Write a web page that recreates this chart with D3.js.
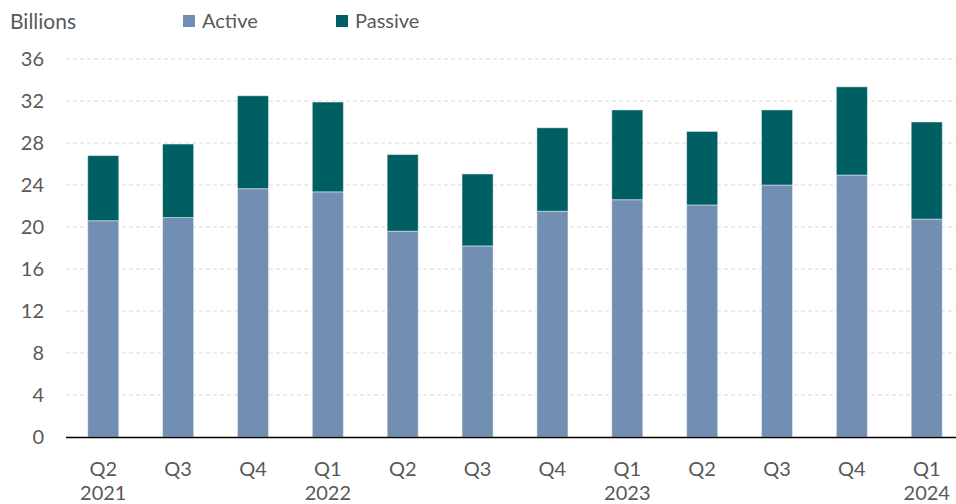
<!DOCTYPE html>
<html><head><meta charset="utf-8">
<script src="https://cdn.jsdelivr.net/npm/d3@7"></script>
<style>body{margin:0;background:#fff}svg{display:block}text{font-family:Lato,"Open Sans",sans-serif;fill:#595959}</style>
</head><body>
<svg id="c" width="956" height="504"></svg>
<script>
const quarters = ["Q2","Q3","Q4","Q1","Q2","Q3","Q4","Q1","Q2","Q3","Q4","Q1"];
const years = ["2021","","","2022","","","","2023","","","","2024"];
const active = [20.6,20.9,23.65,23.35,19.6,18.2,21.5,22.6,22.1,24.0,24.95,20.75];
const passive = [6.2,7.0,8.85,8.55,7.3,6.85,7.95,8.55,7.0,7.15,8.4,9.25];
const yTicks = [0,4,8,12,16,20,24,28,32,36];
const seriesNames = ["Active","Passive"];
const colors = ["#728eb2","#005f63"];

(function(){
const svg = d3.select("#c");
const pL = 66, pR = 964, pT = 59, pB = 437;
const fs = 20;
const idx = d3.range(quarters.length);
const x = d3.scaleBand().domain(idx).range([pL, pR]).paddingInner(0.585).paddingOuter(0.29);
const y = d3.scaleLinear().domain([0,36]).range([pB, pT]);

// gridlines
svg.append("g").selectAll("line").data(yTicks.filter(d=>d>0)).join("line")
  .attr("x1", pL).attr("x2", 956).attr("y1", d=>y(d)).attr("y2", d=>y(d))
  .attr("stroke","#d9d9d9").attr("stroke-width",1).attr("stroke-dasharray","4,3");

// y labels
svg.append("g").selectAll("text").data(yTicks).join("text")
  .attr("x", 44).attr("y", d=>y(d)).attr("dy","0.35em").attr("text-anchor","end")
  .attr("font-size",fs).text(d=>d);

// stacked bars
const rows = idx.map(i=>({i, Active: active[i], Passive: passive[i]}));
const stack = d3.stack().keys(seriesNames)(rows);
svg.append("g").selectAll("g").data(stack).join("g").attr("fill",(d,k)=>colors[k])
  .selectAll("rect").data(d=>d).join("rect")
  .attr("x", d=>x(d.data.i)).attr("width", x.bandwidth())
  .attr("y", d=>y(d[1])).attr("height", d=>y(d[0])-y(d[1]))
  .attr("stroke","#ffffff").attr("stroke-opacity",0.45).attr("stroke-width",1);

// x axis line
svg.append("line").attr("x1",pL).attr("x2",956).attr("y1",pB+0.5).attr("y2",pB+0.5)
  .attr("stroke","#000").attr("stroke-width",1.5);

// x labels
const xl = svg.append("g");
xl.selectAll("text.q").data(idx).join("text").attr("class","q")
  .attr("x", i=>x(i)+x.bandwidth()/2).attr("y",476).attr("text-anchor","middle")
  .attr("font-size",fs).text(i=>quarters[i]);
xl.selectAll("text.yr").data(idx.filter(i=>years[i])).join("text").attr("class","yr")
  .attr("x", i=>x(i)+x.bandwidth()/2).attr("y",500).attr("text-anchor","middle")
  .attr("font-size",fs).text(i=>years[i]);

// title & legend
svg.append("text").attr("x",10).attr("y",29).attr("font-size",21).text("Billions");
const legX = [183, 336];
const lg = svg.append("g").selectAll("g").data(seriesNames).join("g")
  .attr("transform",(d,k)=>`translate(${legX[k]},0)`);
lg.append("rect").attr("x",0).attr("y",15).attr("width",12).attr("height",12).attr("fill",(d,k)=>colors[k]);
lg.append("text").attr("x",19).attr("y",28).attr("font-size",fs).text(d=>d);
})();
</script>
</body></html>
